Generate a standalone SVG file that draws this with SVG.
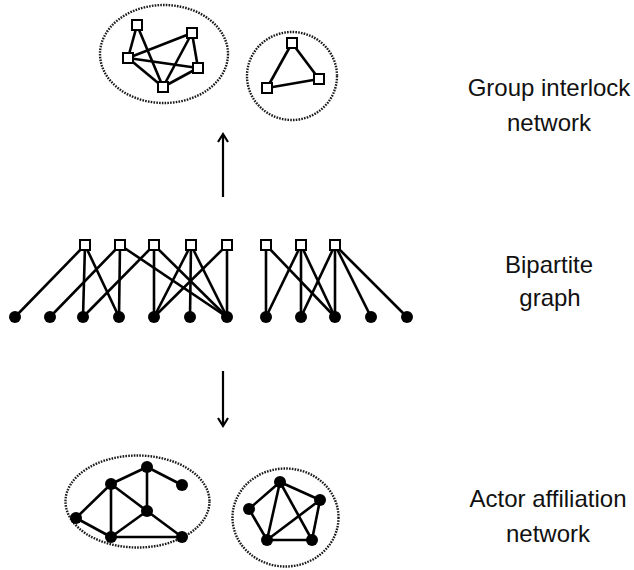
<svg xmlns="http://www.w3.org/2000/svg" width="634" height="570" viewBox="0 0 634 570">
<style>
.e{stroke:#000;stroke-width:2.6;fill:none}
.sq{fill:#fff;stroke:#000;stroke-width:2}
.dot{fill:#000}
.ell{fill:none;stroke:#1a1a1a;stroke-width:2.4;stroke-dasharray:1.6 1.2}
.lbl{font-family:"Liberation Sans",Arial,sans-serif;font-size:24px;fill:#111;text-anchor:middle}
.ar{stroke:#000;stroke-width:2.2;fill:none}
</style>
<defs>
<rect id="s" x="-5" y="-5" width="10" height="10" class="sq"/>
<circle id="c" r="6" class="dot"/>
</defs>
<rect width="634" height="570" fill="#fff"/>

<g id="connectors">
<g class="e">
<line x1="137" y1="25" x2="128" y2="58"/>
<line x1="137" y1="25" x2="163" y2="87"/>
<line x1="128" y1="58" x2="192" y2="33"/>
<line x1="128" y1="58" x2="198" y2="68"/>
<line x1="128" y1="58" x2="163" y2="87"/>
<line x1="192" y1="33" x2="163" y2="87"/>
<line x1="192" y1="33" x2="198" y2="68"/>
<line x1="163" y1="87" x2="198" y2="68"/>
<line x1="292" y1="43" x2="319" y2="79"/>
<line x1="292" y1="43" x2="267" y2="88"/>
<line x1="267" y1="88" x2="319" y2="79"/>
<line x1="85" y1="245" x2="15" y2="317"/>
<line x1="85" y1="245" x2="83" y2="317"/>
<line x1="85" y1="245" x2="119" y2="317"/>
<line x1="120" y1="245" x2="50" y2="317"/>
<line x1="120" y1="245" x2="119" y2="317"/>
<line x1="120" y1="245" x2="227" y2="317"/>
<line x1="154" y1="245" x2="83" y2="317"/>
<line x1="154" y1="245" x2="154" y2="317"/>
<line x1="154" y1="245" x2="227" y2="317"/>
<line x1="191" y1="245" x2="154" y2="317"/>
<line x1="191" y1="245" x2="190" y2="317"/>
<line x1="191" y1="245" x2="227" y2="317"/>
<line x1="227" y1="245" x2="154" y2="317"/>
<line x1="227" y1="245" x2="227" y2="317"/>
<line x1="266" y1="245" x2="266" y2="317"/>
<line x1="266" y1="245" x2="335" y2="317"/>
<line x1="301" y1="245" x2="266" y2="317"/>
<line x1="301" y1="245" x2="301" y2="317"/>
<line x1="301" y1="245" x2="335" y2="317"/>
<line x1="335" y1="245" x2="301" y2="317"/>
<line x1="335" y1="245" x2="335" y2="317"/>
<line x1="335" y1="245" x2="371" y2="317"/>
<line x1="335" y1="245" x2="407" y2="317"/>
<line x1="147" y1="467" x2="111" y2="484"/>
<line x1="147" y1="467" x2="182" y2="485"/>
<line x1="147" y1="467" x2="147" y2="511"/>
<line x1="111" y1="484" x2="76" y2="518"/>
<line x1="111" y1="484" x2="111" y2="537"/>
<line x1="111" y1="484" x2="147" y2="511"/>
<line x1="76" y1="518" x2="111" y2="537"/>
<line x1="111" y1="537" x2="147" y2="511"/>
<line x1="111" y1="537" x2="182" y2="537"/>
<line x1="147" y1="511" x2="182" y2="537"/>
<line x1="280" y1="482" x2="249" y2="509"/>
<line x1="280" y1="482" x2="267" y2="540"/>
<line x1="280" y1="482" x2="312" y2="540"/>
<line x1="280" y1="482" x2="320" y2="500"/>
<line x1="249" y1="509" x2="267" y2="540"/>
<line x1="267" y1="540" x2="320" y2="500"/>
<line x1="267" y1="540" x2="312" y2="540"/>
<line x1="312" y1="540" x2="320" y2="500"/>
</g>
<line class="ar" x1="223" y1="197" x2="223" y2="135"/>
<polyline class="ar" points="218,142 223,134 228,142"/>
<line class="ar" x1="223" y1="371" x2="223" y2="425"/>
<polyline class="ar" points="218,418 223,426 228,418"/>
</g>

<g id="group-interlock">
<ellipse class="ell" cx="164" cy="54" rx="64" ry="49"/>
<ellipse class="ell" cx="292" cy="76" rx="45" ry="44"/>
<use href="#s" x="137" y="25"/>
<use href="#s" x="192" y="33"/>
<use href="#s" x="128" y="58"/>
<use href="#s" x="198" y="68"/>
<use href="#s" x="163" y="87"/>
<use href="#s" x="292" y="43"/>
<use href="#s" x="319" y="79"/>
<use href="#s" x="267" y="88"/>
</g>

<g id="bipartite-groups">
<use href="#s" x="85" y="245"/>
<use href="#s" x="120" y="245"/>
<use href="#s" x="154" y="245"/>
<use href="#s" x="191" y="245"/>
<use href="#s" x="227" y="245"/>
<use href="#s" x="266" y="245"/>
<use href="#s" x="301" y="245"/>
<use href="#s" x="335" y="245"/>
</g>
<g id="bipartite-actors">
<use href="#c" x="15" y="317"/>
<use href="#c" x="50" y="317"/>
<use href="#c" x="83" y="317"/>
<use href="#c" x="119" y="317"/>
<use href="#c" x="154" y="317"/>
<use href="#c" x="190" y="317"/>
<use href="#c" x="227" y="317"/>
<use href="#c" x="266" y="317"/>
<use href="#c" x="301" y="317"/>
<use href="#c" x="335" y="317"/>
<use href="#c" x="371" y="317"/>
<use href="#c" x="407" y="317"/>
</g>

<g id="actor-affiliation">
<ellipse class="ell" cx="137.5" cy="501.5" rx="72" ry="46"/>
<ellipse class="ell" cx="285.5" cy="517.5" rx="53" ry="49"/>
<use href="#c" x="147" y="467"/>
<use href="#c" x="111" y="484"/>
<use href="#c" x="182" y="485"/>
<use href="#c" x="147" y="511"/>
<use href="#c" x="76" y="518"/>
<use href="#c" x="111" y="537"/>
<use href="#c" x="182" y="537"/>
<use href="#c" x="280" y="482"/>
<use href="#c" x="249" y="509"/>
<use href="#c" x="320" y="500"/>
<use href="#c" x="267" y="540"/>
<use href="#c" x="312" y="540"/>
</g>

<g id="labels">
<text class="lbl" x="549" y="96">Group interlock</text>
<text class="lbl" x="549" y="131">network</text>
<text class="lbl" x="549" y="273">Bipartite</text>
<text class="lbl" x="550" y="306">graph</text>
<text class="lbl" x="548" y="507">Actor affiliation</text>
<text class="lbl" x="548" y="542">network</text>
</g>
</svg>
